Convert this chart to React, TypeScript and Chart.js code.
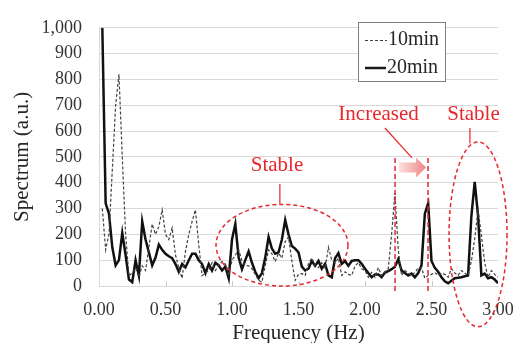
import React, { useEffect, useRef } from 'react';
import { Chart, registerables } from 'chart.js';

Chart.register(...registerables);

const frequencies = [
  0.025, 0.05, 0.075, 0.1, 0.125, 0.15, 0.175, 0.2, 0.225, 0.25,
  0.275, 0.3, 0.325, 0.35, 0.375, 0.4, 0.425, 0.45, 0.475, 0.5,
  0.525, 0.55, 0.575, 0.6, 0.625, 0.65, 0.675, 0.7, 0.725, 0.75,
  0.775, 0.8, 0.825, 0.85, 0.875, 0.9, 0.925, 0.95, 0.975, 1.0,
  1.025, 1.05, 1.075, 1.1, 1.125, 1.15, 1.175, 1.2, 1.225, 1.25,
  1.275, 1.3, 1.325, 1.35, 1.375, 1.4, 1.425, 1.45, 1.475, 1.5,
  1.525, 1.55, 1.575, 1.6, 1.625, 1.65, 1.675, 1.7, 1.725, 1.75,
  1.775, 1.8, 1.825, 1.85, 1.875, 1.9, 1.925, 1.95, 1.975, 2.0,
  2.025, 2.05, 2.075, 2.1, 2.125, 2.15, 2.175, 2.2, 2.225, 2.25,
  2.275, 2.3, 2.325, 2.35, 2.375, 2.4, 2.425, 2.45, 2.475, 2.5,
  2.525, 2.55, 2.575, 2.6, 2.625, 2.65, 2.675, 2.7, 2.725, 2.75,
  2.775, 2.8, 2.825, 2.85, 2.875, 2.9, 2.925, 2.95, 2.975, 3.0,
];

const spectrum10min = [
  300, 140, 200, 450, 700, 820, 500, 200, 40, 50,
  70, 35, 78, 60, 150, 240, 200, 230, 295, 200,
  180, 225, 120, 70, 30, 134, 200, 250, 295, 160,
  40, 50, 60, 90, 60, 80, 95, 85, 40, 100,
  120, 140, 97, 80, 78, 67, 45, 22, 15, 80,
  140, 125, 95, 127, 108, 171, 190, 97, 22, 45,
  48, 41, 86, 108, 80, 71, 90, 67, 150, 100,
  90, 108, 41, 55, 45, 41, 78, 90, 67, 60,
  34, 52, 34, 71, 41, 55, 67, 200, 360, 140,
  41, 60, 50, 41, 52, 70, 71, 30, 41, 45,
  52, 41, 50, 45, 34, 67, 50, 41, 60, 50,
  41, 97, 183, 295, 197, 90, 34, 60, 45, 34,
];

const spectrum20min = [
  1000, 320, 280, 150, 80, 100, 205, 120, 25, 15,
  100, 40, 250, 180, 130, 80, 110, 160, 140, 125,
  115, 108, 85, 55, 85, 72, 100, 125, 125, 100,
  85, 50, 85, 60, 90, 80, 60, 75, 30, 180,
  240, 110, 65, 100, 134, 90, 55, 30, 50, 110,
  190, 145, 125, 130, 180, 255, 200, 155, 145, 130,
  75, 60, 67, 97, 78, 97, 67, 86, 41, 34,
  108, 127, 86, 97, 78, 97, 100, 100, 86, 67,
  50, 34, 45, 45, 34, 52, 58, 65, 75, 104,
  60, 50, 41, 48, 34, 50, 80, 280, 320, 97,
  70, 55, 34, 18, 11, 20, 30, 32, 34, 38,
  41, 272, 403, 272, 41, 48, 30, 34, 25, 11,
];

const seriesLabels = ['10min', '20min'];
const xTitle = 'Frequency (Hz)';
const yTitle = 'Spectrum (a.u.)';
const xTickMarks = [0.5, 1.0, 1.5, 2.0, 2.5];
const stableLabel = 'Stable';
const increasedLabel = 'Increased';

const FONT = '"Liberation Serif", "Times New Roman", serif';
const RED = '#e8262b';

const overlayPlugin = {
  id: 'overlay',
  beforeDatasetsDraw(chart: any) {
    const { ctx, scales, chartArea } = chart;
    const x = scales.x;
    ctx.save();
    ctx.strokeStyle = '#c8c8c8';
    ctx.lineWidth = 1;
    for (const v of xTickMarks) {
      const p = Math.round(x.getPixelForValue(v)) + 0.5;
      ctx.beginPath();
      ctx.moveTo(p, chartArea.bottom);
      ctx.lineTo(p, chartArea.bottom - 5);
      ctx.stroke();
    }
    ctx.restore();
  },
  afterDraw(chart: any) {
    const { ctx, scales } = chart;
    const x = scales.x;
    const y = scales.y;
    const px = (f: number) => x.getPixelForValue(f);
    const py = (v: number) => y.getPixelForValue(v);
    ctx.save();

    // Legend box
    const lx = 358.5, ly = 22.5, lw = 87, lh = 59;
    ctx.fillStyle = '#ffffff';
    ctx.fillRect(lx, ly, lw, lh);
    ctx.strokeStyle = '#7f7f7f';
    ctx.lineWidth = 1;
    ctx.setLineDash([]);
    ctx.strokeRect(lx, ly, lw, lh);
    ctx.strokeStyle = '#404040';
    ctx.lineWidth = 1.2;
    ctx.setLineDash([3, 2]);
    ctx.beginPath();
    ctx.moveTo(365, 40.5);
    ctx.lineTo(387, 40.5);
    ctx.stroke();
    ctx.setLineDash([]);
    ctx.strokeStyle = '#1a1a1a';
    ctx.lineWidth = 2.5;
    ctx.beginPath();
    ctx.moveTo(365, 68);
    ctx.lineTo(386, 68);
    ctx.stroke();
    ctx.fillStyle = '#262626';
    ctx.font = `20px ${FONT}`;
    ctx.textAlign = 'left';
    ctx.textBaseline = 'middle';
    ctx.fillText(seriesLabels[0], 388, 40);
    ctx.fillText(seriesLabels[1], 387, 68);

    // Red ellipses
    ctx.strokeStyle = RED;
    ctx.lineWidth = 1.5;
    ctx.setLineDash([4, 3]);
    const ellipses = [
      { cx: 1.376, cy: 158, rx: 0.496, ry: 158 },
      { cx: 2.85, cy: 200, rx: 0.218, ry: 358 },
    ];
    for (const e of ellipses) {
      const cxp = px(e.cx);
      const cyp = py(e.cy);
      const rxp = Math.abs(px(e.cx + e.rx) - cxp);
      const ryp = Math.abs(py(e.cy + e.ry) - cyp);
      ctx.beginPath();
      ctx.ellipse(cxp, cyp, rxp, ryp, 0, 0, Math.PI * 2);
      ctx.stroke();
    }

    // vertical dashed red lines
    ctx.setLineDash([5, 3]);
    for (const f of [2.226, 2.474]) {
      ctx.beginPath();
      ctx.moveTo(px(f), py(496));
      ctx.lineTo(px(f), py(-22));
      ctx.stroke();
    }

    // leader lines
    ctx.setLineDash([]);
    ctx.lineWidth = 1.2;
    ctx.beginPath();
    ctx.moveTo(px(1.36), py(317));
    ctx.lineTo(px(1.36), py(395));
    ctx.moveTo(px(2.789), py(552));
    ctx.lineTo(px(2.789), py(612));
    ctx.moveTo(px(2.15), py(612));
    ctx.lineTo(px(2.353), py(496));
    ctx.stroke();

    // pink block arrow
    const ax0 = px(2.256), ax1 = px(2.459), ayc = py(459);
    const headStart = ax1 - 10;
    const grad = ctx.createLinearGradient(ax0, 0, ax1, 0);
    grad.addColorStop(0, '#fbe0e0');
    grad.addColorStop(1, '#f08585');
    ctx.fillStyle = grad;
    ctx.beginPath();
    ctx.moveTo(ax0, ayc - 5);
    ctx.lineTo(headStart, ayc - 5);
    ctx.lineTo(headStart, ayc - 10);
    ctx.lineTo(ax1, ayc);
    ctx.lineTo(headStart, ayc + 10);
    ctx.lineTo(headStart, ayc + 5);
    ctx.lineTo(ax0, ayc + 5);
    ctx.closePath();
    ctx.fill();

    // red texts
    ctx.fillStyle = RED;
    ctx.font = `21px ${FONT}`;
    ctx.textAlign = 'center';
    ctx.textBaseline = 'middle';
    ctx.fillText(stableLabel, px(1.338), py(466));
    ctx.fillText(increasedLabel, px(2.102), py(664));
    ctx.fillText(stableLabel, px(2.816), py(664));

    ctx.restore();
  },
};

export default function App() {
  const canvasRef = useRef<HTMLCanvasElement | null>(null);

  useEffect(() => {
    const canvas = canvasRef.current;
    if (!canvas) return;
    const chart = new Chart(canvas, {
      type: 'line',
      data: {
        datasets: [
          {
            label: seriesLabels[0],
            data: frequencies.map((f, i) => ({ x: f, y: spectrum10min[i] })),
            borderColor: '#404040',
            borderWidth: 1.2,
            borderDash: [3, 2],
            pointRadius: 0,
            tension: 0,
            fill: false,
          },
          {
            label: seriesLabels[1],
            data: frequencies.map((f, i) => ({ x: f, y: spectrum20min[i] })),
            borderColor: '#111111',
            borderWidth: 2.5,
            pointRadius: 0,
            tension: 0,
            fill: false,
          },
        ],
      },
      options: {
        animation: false,
        responsive: false,
        devicePixelRatio: 1,
        layout: { padding: { top: 18, right: 15, left: 0, bottom: 0 } },
        plugins: {
          legend: { display: false },
          tooltip: { enabled: false },
        },
        scales: {
          x: {
            type: 'linear',
            min: 0,
            max: 3,
            afterFit: (s: any) => {
              s.height = 57;
              s.paddingLeft = 0;
              s.paddingRight = 0;
            },
            ticks: {
              stepSize: 0.5,
              autoSkip: false,
              maxRotation: 0,
              padding: 13,
              color: '#333333',
              font: { family: FONT, size: 18 },
              callback: (v: any) => Number(v).toFixed(2),
            },
            grid: { display: false, drawTicks: false },
            border: { display: true, color: '#d9d9d9', width: 1 },
            title: {
              display: true,
              text: xTitle,
              color: '#262626',
              font: { family: FONT, size: 21, lineHeight: 1 },
              padding: { top: 0, bottom: -1 },
            },
          },
          y: {
            min: 0,
            max: 1000,
            afterFit: (s: any) => {
              s.width = 99;
            },
            ticks: {
              stepSize: 100,
              padding: 17,
              color: '#333333',
              font: { family: FONT, size: 18 },
              callback: (v: any) => Number(v).toLocaleString('en-US'),
            },
            grid: { color: '#d9d9d9', lineWidth: 1, drawTicks: false },
            border: { display: true, color: '#d9d9d9', width: 1 },
            title: {
              display: true,
              text: yTitle,
              color: '#262626',
              font: { family: FONT, size: 21, lineHeight: 1.2 },
              padding: { top: 10, bottom: 0 },
            },
          },
        },
      },
      plugins: [overlayPlugin],
    } as any);
    return () => chart.destroy();
  }, []);

  return (
    <div style={{ position: 'absolute', left: 0, top: 0, width: 513, height: 343, background: '#ffffff' }}>
      <canvas ref={canvasRef} width={513} height={343} style={{ display: 'block' }} />
    </div>
  );
}
